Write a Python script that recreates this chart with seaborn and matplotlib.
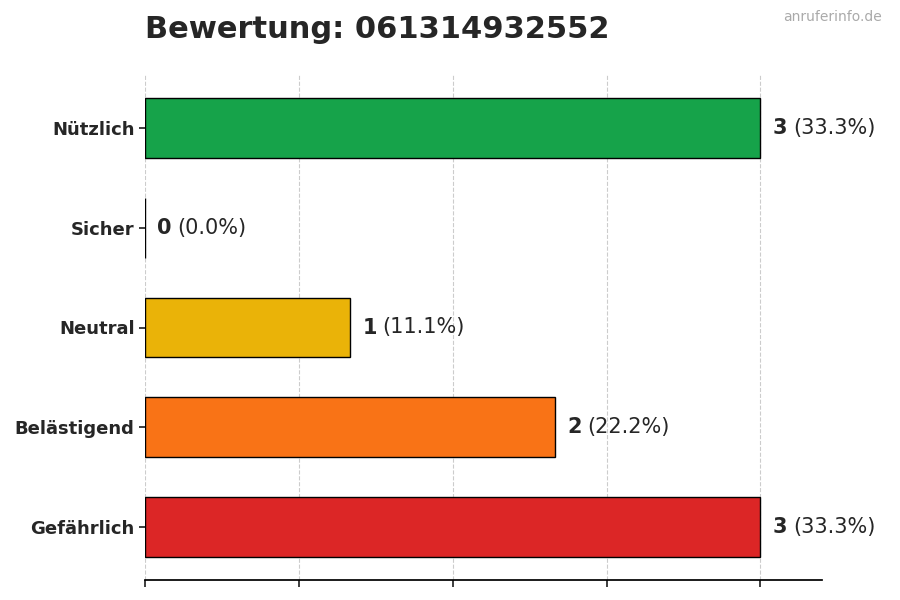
import matplotlib
matplotlib.use("Agg")
import matplotlib.pyplot as plt
import seaborn as sns
import pandas as pd

sns.set_theme(style="white")
plt.rcParams["font.family"] = ["DejaVu Sans"]

categories = ["Nützlich", "Sicher", "Neutral", "Belästigend", "Gefährlich"]
counts = [3, 0, 1, 2, 3]
colors = ["#16a34a", "#6b7280", "#eab308", "#f97316", "#dc2626"]
total = sum(counts)

df = pd.DataFrame({"cat": categories, "count": counts})

fig = plt.figure(figsize=(9, 6), dpi=100)
ax = fig.add_axes([145 / 900, 20 / 600, 677 / 900, 505 / 600])
sns.barplot(data=df, y="cat", x="count", hue="cat", palette=colors, orient="h",
            width=0.6, edgecolor="black", linewidth=1, legend=False, ax=ax, saturation=1)

ax.set_xlim(0, 3.3)
ax.set_ylim(4.53, -0.53)
ax.set_xticks([0, 0.75, 1.5, 2.25, 3])
ax.set_xticklabels([])
ax.tick_params(axis="x", length=5, bottom=True)
ax.tick_params(axis="y", length=4, left=True)
ax.grid(axis="x", linestyle="--", color="#cccccc", linewidth=0.8)
ax.set_axisbelow(True)
for s in ["top", "right", "left"]:
    ax.spines[s].set_visible(False)
ax.spines["bottom"].set_color("black")
ax.set_xlabel("")
ax.set_ylabel("")
for lab in ax.get_yticklabels():
    lab.set_fontweight("bold")
    lab.set_fontsize(13)

for i, c in enumerate(counts):
    t = ax.text(c + 0.06, i, str(c), va="center", ha="left", fontsize=15, fontweight="bold")
    ax.annotate(f"({c / total * 100:.1f}%)", xy=(1, 0.5), xycoords=t, xytext=(4, 0),
                textcoords="offset points", va="center", ha="left", fontsize=15)

fig.text(145 / 900, 1 - 30 / 600, "Bewertung: 061314932552", fontsize=22, fontweight="bold",
         va="center", ha="left")
fig.text(882 / 900, 1 - 17 / 600, "anruferinfo.de", fontsize=10, color="#aaaaaa",
         va="center", ha="right")

fig.savefig("out.png", dpi=100)
